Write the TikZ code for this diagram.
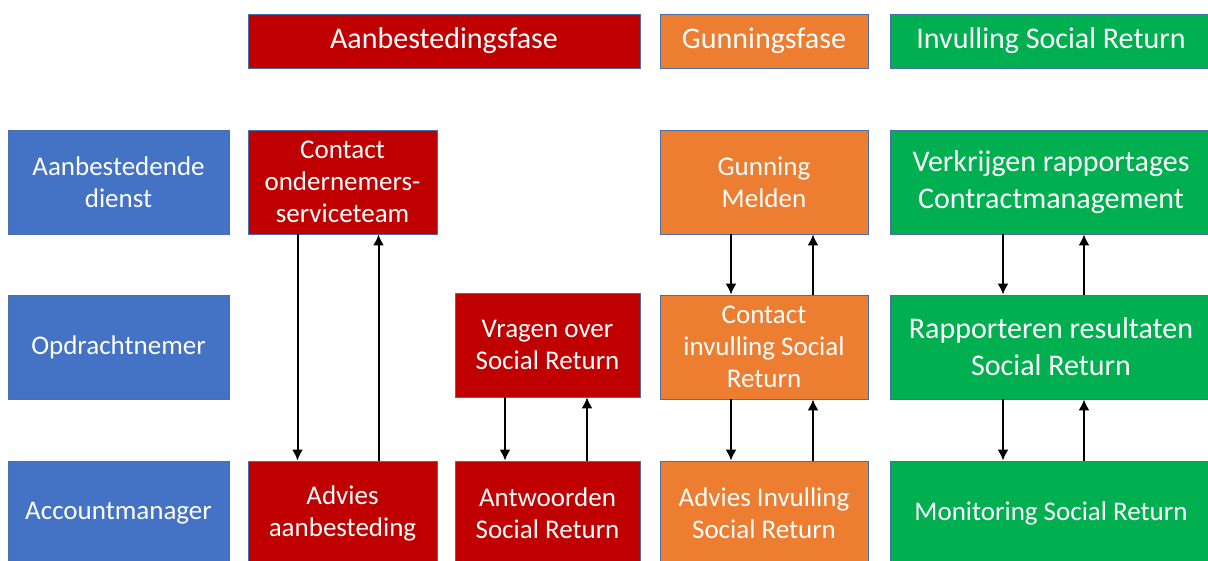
\documentclass[tikz,border=0pt]{standalone}
\usepackage{fontspec}
\setmainfont{Carlito}
\usetikzlibrary{arrows.meta}
\definecolor{blok}{HTML}{4472C4}
\definecolor{rood}{HTML}{C00000}
\definecolor{oranje}{HTML}{ED7D31}
\definecolor{groen}{HTML}{00B050}
\definecolor{rand}{HTML}{4A6FA8}
\begin{document}
\begin{tikzpicture}[>={Latex[length=11pt,width=11pt]},x=1pt,y=-1pt,
    box/.style={draw=rand,line width=0.8pt,text=white,align=center,inner sep=0pt,
        minimum height=104pt,font=\fontsize{27}{32}\selectfont},
    kop/.style={box,minimum height=54pt,font=\fontsize{30}{36}\selectfont},
    groot/.style={box,font=\fontsize{30}{37}\selectfont}]
        \clip (0,0) rectangle (1208,561);
        % koppen
        \node[kop,fill=rood,minimum width=392pt] (fase1) at (444,41) {Aanbestedingsfase};
        \node[kop,fill=oranje,minimum width=208pt] (fase2) at (764,41) {Gunningsfase};
        \node[kop,fill=groen,minimum width=322pt] (fase3) at (1051,41) {Invulling Social Return};
        % rollen
        \foreach \y/\n/\t in {182/dienst/{Aanbestedende\\dienst},347/nemer/{Opdrachtnemer},513/manager/{Accountmanager}}
        {
            \node[box,fill=blok,minimum width=221pt] (\n) at (118.5,\y) {\t};
        }
        % aanbesteding
        \node[box,fill=rood,minimum width=189pt] (contact) at (342.5,182) {Contact\\ondernemers-\\serviceteam};
        \node[box,fill=rood,minimum width=189pt] (advies) at (342.5,513) {Advies\\aanbesteding};
        \node[box,fill=rood,minimum width=185pt] (vragen) at (547.5,345) {Vragen over\\Social Return};
        \node[box,fill=rood,minimum width=185pt] (antwoorden) at (547.5,513) {Antwoorden\\Social Return};
        % gunning
        \node[box,fill=oranje,minimum width=208pt] (gunning) at (764,182) {Gunning\\Melden};
        \node[box,fill=oranje,minimum width=208pt] (contactinv) at (764,347) {Contact\\invulling Social\\Return};
        \node[box,fill=oranje,minimum width=208pt] (adviesinv) at (764,513) {Advies Invulling\\Social Return};
        % invulling
        \node[groot,fill=groen,minimum width=322pt] (verkrijgen) at (1051,182) {Verkrijgen rapportages\\Contractmanagement};
        \node[groot,fill=groen,minimum width=322pt] (rapporteren) at (1051,347) {Rapporteren resultaten\\Social Return};
        \node[box,fill=groen,minimum width=322pt] (monitoring) at (1051,513) {Monitoring Social Return};
        % pijlen
        \foreach \a/\b/\d/\u in {contact/advies/-45/36,vragen/antwoorden/-42.5/39.5,
            gunning/contactinv/-33/49,contactinv/adviesinv/-33/49,
            verkrijgen/rapporteren/-48/33,rapporteren/monitoring/-48/33}
        {
            \draw[->,line width=2pt] ([xshift=\d]\a.south) -- ([xshift=\d]\b.north);
            \draw[->,line width=2pt] ([xshift=\u]\b.north) -- ([xshift=\u]\a.south);
        }
    \end{tikzpicture}
\end{document}
